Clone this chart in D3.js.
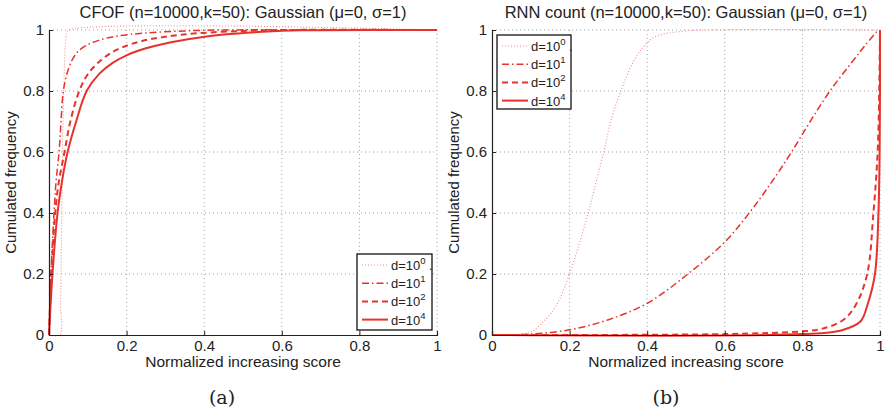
<!DOCTYPE html>
<html>
<head>
<meta charset="utf-8">
<script src="https://cdn.jsdelivr.net/npm/d3@7"></script>
<style>
  body { margin: 0; background: #fff; }
  svg { display: block; font-family: 'Liberation Sans', Arial, sans-serif; }
</style>
</head>
<body>
<svg id="chart" width="888" height="413"></svg>
<script>
// ---------- DATA ----------
const titles = ["CFOF (n=10000,k=50): Gaussian (\u03bc=0, \u03c3=1)", "RNN count (n=10000,k=50): Gaussian (\u03bc=0, \u03c3=1)"];
const captions = ["(a)", "(b)"];
const xLabel = "Normalized increasing score";
const yLabel = "Cumulated frequency";
const tickValues = [0, 0.2, 0.4, 0.6, 0.8, 1];
const seriesExponents = ["0", "1", "2", "4"];

// Panel (a): CFOF
const cfofD1x = [0, 0.028, 0.030, 0.032, 0.034, 0.036, 0.039, 0.042, 0.046, 0.050, 1];
const cfofD1y = [0, 0, 0.1, 0.3, 0.5, 0.7, 0.85, 0.95, 0.99, 1, 1];
const cfofD10x = [0, 0.005, 0.013, 0.018, 0.026, 0.031, 0.037, 0.047, 0.059, 0.075, 0.097, 0.13, 0.175, 0.25, 0.35, 0.45, 1];
const cfofD10y = [0, 0.2, 0.4, 0.5, 0.6, 0.7, 0.8, 0.86, 0.9, 0.93, 0.95, 0.967, 0.98, 0.99, 0.997, 1, 1];
const cfofD100x = [0, 0.006, 0.016, 0.025, 0.04, 0.055, 0.078, 0.1, 0.13, 0.16, 0.19, 0.24, 0.3, 0.38, 0.5, 0.6, 1];
const cfofD100y = [0, 0.2, 0.4, 0.5, 0.6, 0.7, 0.8, 0.855, 0.897, 0.925, 0.944, 0.964, 0.978, 0.989, 0.997, 1, 1];
const cfofD1e4x = [0, 0.009, 0.022, 0.033, 0.048, 0.07, 0.097, 0.13, 0.165, 0.2, 0.25, 0.3, 0.38, 0.45, 0.55, 0.65, 1];
const cfofD1e4y = [0, 0.2, 0.4, 0.5, 0.6, 0.7, 0.8, 0.857, 0.893, 0.917, 0.94, 0.956, 0.974, 0.985, 0.994, 0.999, 1];

// Panel (b): RNN count
const rnnD1x = [0, 0.05, 0.1, 0.137, 0.167, 0.2, 0.225, 0.248, 0.268, 0.288, 0.306, 0.332, 0.366, 0.394, 0.424, 0.485, 0.55, 1];
const rnnD1y = [0, 0.001, 0.01, 0.05, 0.1, 0.2, 0.3, 0.4, 0.5, 0.6, 0.7, 0.8, 0.9, 0.95, 0.98, 0.995, 1, 1];
const rnnD10x = [0, 0.1, 0.2, 0.3, 0.4, 0.5, 0.6, 0.663, 0.72, 0.772, 0.82, 0.871, 0.931, 0.962, 0.995];
const rnnD10y = [0, 0.003, 0.017, 0.05, 0.104, 0.195, 0.305, 0.4, 0.5, 0.6, 0.7, 0.8, 0.9, 0.95, 1];
const rnnD100x = [0, 0.6, 0.8, 0.85, 0.906, 0.938, 0.967, 0.983, 0.994, 0.998, 1];
const rnnD100y = [0, 0.003, 0.012, 0.02, 0.05, 0.1, 0.2, 0.4, 0.6, 0.8, 1];
const rnnD1e4x = [0, 0.8, 0.9, 0.95, 0.968, 0.987, 0.996, 0.999, 1, 1];
const rnnD1e4y = [0, 0.003, 0.015, 0.045, 0.1, 0.2, 0.4, 0.6, 0.8, 1];

// ---------- STYLES ----------
const styles = [
  { color: "#f08c8c", width: 1.1, dash: "1,2" },
  { color: "#e6332c", width: 1.5, dash: "7,3,1.5,3" },
  { color: "#e6332c", width: 2, dash: "6,4" },
  { color: "#e6332c", width: 2, dash: null }
];

const zip = (xs, ys) => xs.map((x, i) => ({ x, y: ys[i] }));
const panels = [
  {
    left: 49, legend: { x: 357, y: 254, w: 75, h: 76 }, captionX: 222,
    series: [zip(cfofD1x, cfofD1y), zip(cfofD10x, cfofD10y), zip(cfofD100x, cfofD100y), zip(cfofD1e4x, cfofD1e4y)]
  },
  {
    left: 492, legend: { x: 497, y: 35, w: 74, h: 74 }, captionX: 666,
    series: [zip(rnnD1x, rnnD1y), zip(rnnD10x, rnnD10y), zip(rnnD100x, rnnD100y), zip(rnnD1e4x, rnnD1e4y)]
  }
];

const svg = d3.select("#chart");
const plotTop = 30, plotBottom = 335, plotW = 388;
const FONT = "'Liberation Sans', Arial, sans-serif";

panels.forEach((p, pi) => {
  const x = d3.scaleLinear().domain([0, 1]).range([p.left, p.left + plotW]);
  const y = d3.scaleLinear().domain([0, 1]).range([plotBottom, plotTop]);
  const g = svg.append("g");

  // grid
  g.append("g").selectAll("line").data(tickValues.filter(v => v > 0)).join("line")
    .attr("x1", d => x(d)).attr("x2", d => x(d)).attr("y1", plotBottom).attr("y2", plotTop)
    .attr("stroke", "#8a8a8a").attr("stroke-width", 0.8).attr("stroke-dasharray", "1,3");
  g.append("g").selectAll("line").data(tickValues.filter(v => v > 0)).join("line")
    .attr("y1", d => y(d)).attr("y2", d => y(d)).attr("x1", p.left).attr("x2", p.left + plotW)
    .attr("stroke", "#8a8a8a").attr("stroke-width", 0.8).attr("stroke-dasharray", "1,3");

  // curves
  const line = d3.line().x(d => x(d.x)).y(d => y(d.y)).curve(d3.curveCatmullRom.alpha(0.5));
  p.series.forEach((s, i) => {
    const st = styles[i];
    g.append("path").datum(s).attr("d", line)
      .attr("fill", "none").attr("stroke", st.color).attr("stroke-width", st.width)
      .attr("stroke-dasharray", st.dash).attr("stroke-linejoin", "round");
  });

  // axes
  const fmt = d => d === 0 || d === 1 ? String(d) : d3.format(".1f")(d);
  const xAxis = d3.axisBottom(x).tickValues(tickValues).tickSize(-4).tickPadding(7).tickFormat(fmt);
  const gx = g.append("g").attr("transform", `translate(0,${plotBottom})`).call(xAxis);
  const yAxis = d3.axisLeft(y).tickValues(tickValues).tickSize(-4).tickPadding(5).tickFormat(fmt);
  const gy = g.append("g").attr("transform", `translate(${p.left},0)`).call(yAxis);
  [gx, gy].forEach(a => {
    a.attr("font-family", FONT).attr("font-size", 15);
    a.select(".domain").attr("stroke", "#222").attr("stroke-width", 1.2);
    a.selectAll(".tick line").attr("stroke", "#222");
    a.selectAll(".tick text").attr("fill", "#222");
  });
  gx.selectAll(".tick text").attr("dy", "0.6em");

  // title & labels
  g.append("text").attr("x", p.left + plotW / 2).attr("y", 18).attr("text-anchor", "middle")
    .attr("font-family", FONT).attr("font-size", 16.5).attr("fill", "#222").text(titles[pi]);
  g.append("text").attr("x", p.left + plotW / 2).attr("y", 367).attr("text-anchor", "middle")
    .attr("font-family", FONT).attr("font-size", 15.5).attr("fill", "#222").text(xLabel);
  g.append("text").attr("transform", `translate(${p.left - 33},${(plotTop + plotBottom) / 2}) rotate(-90)`)
    .attr("text-anchor", "middle").attr("font-family", FONT).attr("font-size", 15)
    .attr("fill", "#222").text(yLabel);
  g.append("text").attr("x", p.captionX).attr("y", 404).attr("text-anchor", "middle")
    .attr("font-family", "'DejaVu Serif', 'Liberation Serif', serif").attr("font-size", 19)
    .attr("fill", "#222").text(captions[pi]);

  // legend
  const L = p.legend;
  const lg = g.append("g");
  lg.append("rect").attr("x", L.x).attr("y", L.y).attr("width", L.w).attr("height", L.h)
    .attr("fill", "#fff").attr("stroke", "#111").attr("stroke-width", 1.3);
  seriesExponents.forEach((e, i) => {
    const ry = L.y + 11 + i * 18.2;
    const st = styles[i];
    lg.append("line").attr("x1", L.x + 5).attr("x2", L.x + 31).attr("y1", ry).attr("y2", ry)
      .attr("stroke", st.color).attr("stroke-width", st.width).attr("stroke-dasharray", st.dash);
    const t = lg.append("text").attr("x", L.x + 34).attr("y", ry + 5)
      .attr("font-family", FONT).attr("font-size", 13).attr("fill", "#222");
    t.append("tspan").text("d=10");
    t.append("tspan").attr("dy", -6).attr("font-size", 9.5).text(e);
    if (i === 0) t.append("tspan").attr("dy", 6).attr("font-size", 12).text(" .");
  });
});
</script>
</body>
</html>
